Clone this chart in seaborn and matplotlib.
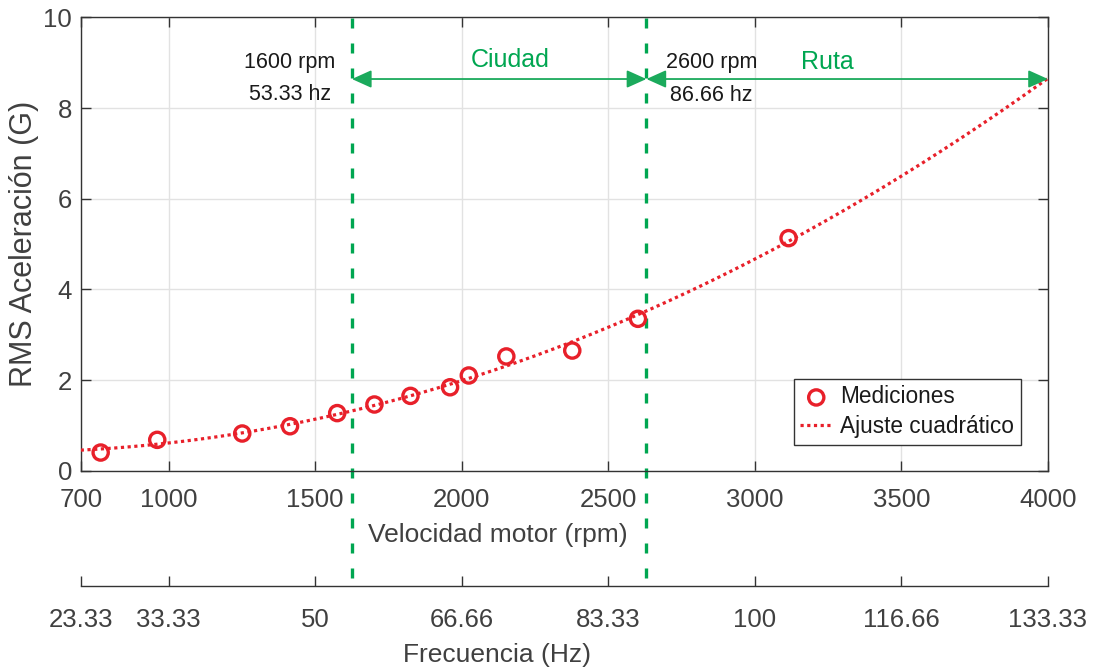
import numpy as np
import pandas as pd
import matplotlib
matplotlib.use("Agg")
import matplotlib.pyplot as plt
import seaborn as sns

# Measured RMS acceleration versus engine speed
rpm_measured = [768, 961, 1251, 1414, 1575, 1702, 1825, 1960, 2024, 2152, 2377, 2601, 3115]
rms_measured = [0.40, 0.68, 0.82, 0.98, 1.27, 1.46, 1.65, 1.84, 2.10, 2.52, 2.65, 3.35, 5.13]

# Axis ticks: engine speed and the matching frequency (rpm / 30)
rpm_ticks = [700, 1000, 1500, 2000, 2500, 3000, 3500, 4000]
freq_tick_labels = ["23.33", "33.33", "50", "66.66", "83.33", "100", "116.66", "133.33"]
y_ticks = [0, 2, 4, 6, 8, 10]

# Driving zones
zone_limits = [1625, 2630, 4000]
zone_names = ["Ciudad", "Ruta"]
boundary_labels = [("1600 rpm", "53.33 hz"), ("2600 rpm", "86.66 hz")]

RED = "#E8202A"
GREEN = "#00A651"
AXIS_C = "#333333"
TEXT_C = "#404040"

sns.set_style("ticks")
plt.rcParams["font.family"] = ["Liberation Sans", "DejaVu Sans"]

fig = plt.figure(figsize=(11, 6.68), dpi=100)
ax = fig.add_axes([0.0734, 0.2954, 0.8793, 0.6786])

meas_df = pd.DataFrame({"rpm": rpm_measured, "rms": rms_measured})

# Quadratic least-squares fit of the measurements
coef = np.polyfit(rpm_measured, rms_measured, 2)
rpm_fit = np.linspace(rpm_ticks[0], rpm_ticks[-1], 400)
fit_df = pd.DataFrame({"rpm": rpm_fit, "rms": np.polyval(coef, rpm_fit)})

sns.lineplot(data=fit_df, x="rpm", y="rms", ax=ax, color=RED, lw=2.3,
             linestyle=(0, (1, 1.1)), label="Ajuste cuadrático", zorder=3)
sns.scatterplot(data=meas_df, x="rpm", y="rms", ax=ax, marker="o", s=120,
                facecolors="none", edgecolor=RED, linewidth=2.4,
                label="Mediciones", zorder=4)

# Zone boundaries, extended down to the frequency axis
for xb in zone_limits[:2]:
    ax.axvline(xb, ymin=-0.2367, ymax=1.0, color=GREEN, lw=2.4,
               linestyle=(0, (3, 4.5)), clip_on=False, zorder=2)

# Zone extent arrows and names
arrow_y = 8.64
for i, name in enumerate(zone_names):
    x0, x1 = zone_limits[i], zone_limits[i + 1]
    ax.annotate("", xy=(x0, arrow_y), xytext=(x1, arrow_y),
                arrowprops=dict(arrowstyle="<|-|>,head_length=0.4,head_width=0.18",
                                color="#1BAA5C", lw=1.3, mutation_scale=30,
                                shrinkA=0, shrinkB=0), zorder=3)
name_pos = [(2164, 8.90), (3246, 8.86)]
for name, (tx, ty) in zip(zone_names, name_pos):
    ax.text(tx, ty, name, color=GREEN, fontsize=18, ha="center", va="baseline")

label_pos = [(1414, 8.877, 8.178), (2851, 8.89, 8.163)]
for (l1, l2), (tx, ty1, ty2) in zip(boundary_labels, label_pos):
    ax.text(tx, ty1, l1, color="#1a1a1a", fontsize=15.5, ha="center", va="baseline")
    ax.text(tx, ty2, l2, color="#1a1a1a", fontsize=15.5, ha="center", va="baseline")

ax.set_xlim(rpm_ticks[0], rpm_ticks[-1])
ax.set_ylim(y_ticks[0], y_ticks[-1])
ax.set_xticks(rpm_ticks)
ax.set_yticks(y_ticks)
ax.grid(True, color="#e2e2e2", lw=1)
ax.set_axisbelow(True)
ax.tick_params(axis="both", direction="in", length=7, width=1, top=True, right=True,
               color=AXIS_C, labelcolor=TEXT_C, labelsize=18.5)
ax.tick_params(axis="x", pad=12.5)
ax.tick_params(axis="y", pad=6.3)
for sp in ax.spines.values():
    sp.set_visible(True)
    sp.set_color(AXIS_C)
    sp.set_linewidth(1)
ax.set_xlabel("Velocidad motor (rpm)", fontsize=19, color=TEXT_C, labelpad=8)
ax.xaxis.label.set_x(0.4314)
ax.set_ylabel("RMS Aceleración (G)", fontsize=22, color=TEXT_C, labelpad=3)

# Secondary frequency axis below the plot
sec = ax.secondary_xaxis(-0.2537, functions=(lambda r: r / 30.0, lambda h: h * 30.0))
sec.set_xticks([r / 30.0 for r in rpm_ticks], labels=freq_tick_labels)
sec.tick_params(direction="in", length=7, width=1, color=AXIS_C, labelcolor=TEXT_C,
                labelsize=18.5, pad=16.3)
sec.spines["bottom"].set_color(AXIS_C)
sec.spines["bottom"].set_linewidth(1)
sec.set_xlabel("Frecuencia (Hz)", fontsize=19, color=TEXT_C, labelpad=8)
sec.xaxis.label.set_x(0.4305)

# Legend: measurements first, fit second
handles, labels = ax.get_legend_handles_labels()
order = [labels.index("Mediciones"), labels.index("Ajuste cuadrático")]
leg = ax.legend([handles[i] for i in order], [labels[i] for i in order],
                loc="lower right", bbox_to_anchor=(0.9718, 0.0567), borderaxespad=0,
                fontsize=16.3, frameon=True, fancybox=False, framealpha=1,
                edgecolor=AXIS_C, handlelength=1.4, handletextpad=0.35,
                borderpad=0.3, labelspacing=0.3)
leg.get_frame().set_linewidth(1)
for t in leg.get_texts():
    t.set_color("#1a1a1a")

fig.savefig("out.png", dpi=100)
